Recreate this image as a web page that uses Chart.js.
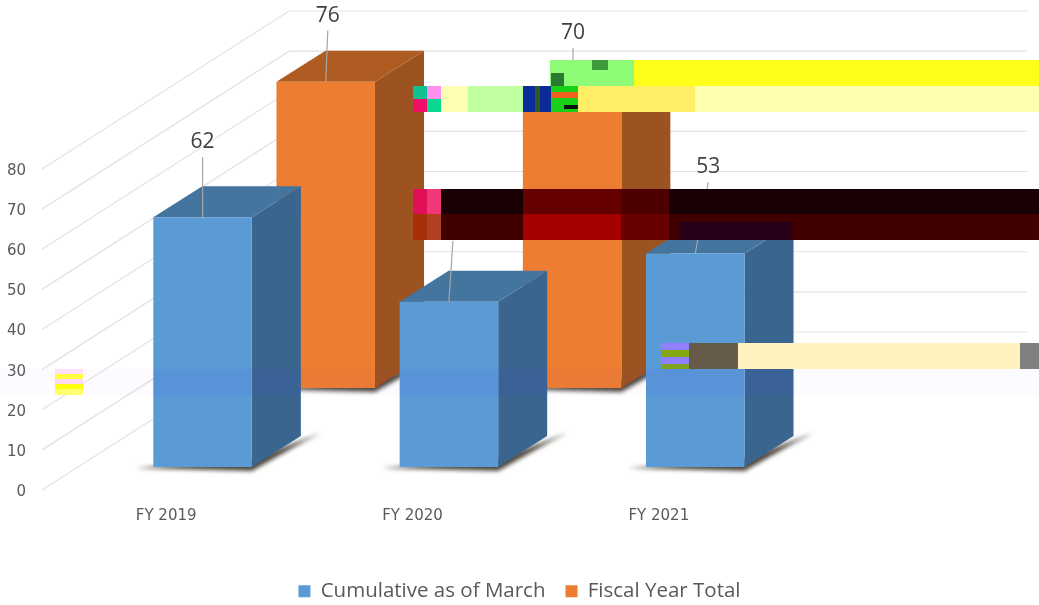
<!DOCTYPE html>
<html>
<head>
<meta charset="utf-8">
<title>Chart</title>
<style>
html, body { margin: 0; padding: 0; background: #fff; overflow: hidden; }
canvas { display: block; }
</style>
<script src="https://cdn.jsdelivr.net/npm/chart.js@4"></script>
</head>
<body>
<canvas id="chart" width="1039" height="605"></canvas>
<script>
/* DATA */
var categories = ['FY 2019', 'FY 2020', 'FY 2021'];
var cumulativeMarch = [62, 41, 53];
var fiscalYearTotal = [76, 70, null];
var axisTicks = [0, 10, 20, 30, 40, 50, 60, 70, 80];

/* LAYOUT */
var pxPerUnit = 4.03;
var areaHeight = 321;                 // from tick 0 to tick 80
var frontLift = 25;                   // blue bars stand this far above tick 0
var backLift = 104;                   // orange bars
var wallDx = 247, wallDy = -158;      // side wall of the 3d box
var wallRight = 1027;
var wallRaise = 2;                    // wall lines sit a bit above the tick labels
var barDx = 49, barDy = -31;          // depth of a bar
var legendDrop = 6.5;

var labelOffsets = [
    [[0, -75], [4, -76], [13, -86]],
    [[2, -66], [1, -73], [0, 0]]
];

var faces = [
    { side: '#3a658f', top: '#44759f' },
    { side: '#9c5320', top: '#ae5c22' }
];

// damaged strips of the source picture: x, y, w, h, colour
var damage = [
    [0, 369, 1039, 26, 'rgba(90,60,255,.02)'],
    [153, 369, 148, 26, 'rgba(70,60,255,.06)'],
    [400, 369, 147, 26, 'rgba(70,60,255,.06)'],
    [646, 369, 147, 26, 'rgba(70,60,255,.06)'],
    [550, 60, 84, 26, '#8dfb76'], [634, 60, 405, 26, '#ffff1c'],
    [551, 73, 13, 13, '#2c7a30'], [592, 60, 16, 10, '#3d9a3a'],
    [413, 86, 14, 13, '#10c090'], [427, 86, 14, 13, '#ff90f0'],
    [413, 99, 14, 13, '#f0106a'], [427, 99, 14, 13, '#08d890'],
    [441, 86, 27, 26, '#ffffb4'], [468, 86, 55, 26, '#c0ffa0'],
    [523, 86, 28, 26, '#0a2c98'], [535, 86, 5, 26, '#2f5a20'],
    [551, 86, 27, 26, '#18d018'], [551, 92, 27, 6, '#f06020'],
    [564, 105, 14, 4, '#101010'], [578, 86, 117, 26, '#ffee66'],
    [695, 86, 344, 26, '#ffffb0'],
    [413, 189, 14, 25, '#e01058'], [427, 189, 14, 25, '#f03878'],
    [441, 189, 82, 25, '#180004'], [523, 189, 98, 25, '#640000'],
    [621, 189, 48, 25, '#4e0000'], [669, 189, 370, 25, '#180004'],
    [413, 214, 14, 26, '#a83008'], [427, 214, 14, 26, '#b04020'],
    [441, 214, 82, 26, '#400000'], [523, 214, 98, 26, '#a40000'],
    [621, 214, 48, 26, '#680000'], [669, 214, 370, 26, '#400000'],
    [680, 222, 112, 18, '#28001a'],
    [55, 369, 28, 5, '#ffe0f8'], [55, 374, 28, 5, '#ffff40'], [55, 379, 28, 5, '#ffd8f0'],
    [55, 384, 28, 5, '#ffff10'], [55, 389, 28, 6, '#ffff70'],
    [661, 343, 28, 7, '#9080ff'], [661, 350, 28, 7, '#84a810'],
    [661, 357, 28, 7, '#9080ff'], [661, 364, 28, 5, '#80a020'],
    [689, 343, 49, 26, '#665a48'], [738, 343, 282, 26, '#fff2c0'],
    [1020, 343, 19, 26, '#808080']
];

/* PLUGIN: 3d walls, bar sides, labels */
var box3d = {
    id: 'box3d',

    afterLayout: function (chart) {
        // the legend sits lower than the library would put it
        chart.legend.top += legendDrop;
        chart.legend.bottom += legendDrop;
    },

    beforeDatasetsDraw: function (chart) {
        var ctx = chart.ctx;
        var scale = chart.scales.y;

        ctx.save();
        axisTicks.forEach(function (value) {
            var py = scale.getPixelForValue(value) - wallRaise;
            ctx.beginPath();
            ctx.moveTo(scale.right - 99, py);
            ctx.lineTo(scale.right - 99 + wallDx, py + wallDy);
            ctx.lineTo(wallRight, py + wallDy);
            ctx.strokeStyle = '#e2e2e2';
            ctx.lineWidth = 1.2;
            ctx.stroke();
        });
        ctx.restore();
    },

    beforeDatasetDraw: function (chart, args) {
        var ctx = chart.ctx;
        var face = faces[args.index];

        chart.getDatasetMeta(args.index).data.forEach(function (el, i) {
            if (chart.data.datasets[args.index].data[i] === null) return;

            var p = el.getProps(['x', 'y', 'base', 'width'], true);
            var left = p.x - p.width / 2;
            var right = p.x + p.width / 2;

            // floor shadow
            ctx.save();
            ctx.filter = 'blur(2px)';
            ctx.fillStyle = 'rgba(60,50,40,.9)';
            ctx.beginPath();
            ctx.moveTo(left - 18, p.base + 1);
            ctx.lineTo(right, p.base + 4);
            ctx.lineTo(right + barDx + 4, p.base + barDy + 5);
            ctx.lineTo(right + barDx + 20, p.base + barDy - 3);
            ctx.lineTo(right, p.base - 8);
            ctx.closePath();
            ctx.fill();
            ctx.restore();

            ctx.fillStyle = face.side;
            ctx.beginPath();
            ctx.moveTo(right, p.y);
            ctx.lineTo(right + barDx, p.y + barDy);
            ctx.lineTo(right + barDx, p.base + barDy);
            ctx.lineTo(right, p.base);
            ctx.closePath();
            ctx.fill();

            ctx.fillStyle = face.top;
            ctx.beginPath();
            ctx.moveTo(left, p.y);
            ctx.lineTo(left + barDx, p.y + barDy);
            ctx.lineTo(right + barDx, p.y + barDy);
            ctx.lineTo(right, p.y);
            ctx.closePath();
            ctx.fill();
        });
    },

    afterDatasetsDraw: function (chart) {
        var ctx = chart.ctx;

        ctx.save();
        ctx.font = '21px "Open Sans"';
        ctx.textAlign = 'center';
        ctx.textBaseline = 'middle';

        chart.data.datasets.forEach(function (ds, d) {
            chart.getDatasetMeta(d).data.forEach(function (el, i) {
                if (ds.data[i] === null) return;

                var off = labelOffsets[d][i];
                var lx = el.x + off[0];
                var ly = el.y + off[1];

                ctx.beginPath();
                ctx.moveTo(lx, ly + 15);
                ctx.lineTo(el.x, el.y);
                ctx.strokeStyle = '#a6a6a6';
                ctx.lineWidth = 1.2;
                ctx.stroke();

                ctx.fillStyle = '#404040';
                ctx.fillText(String(ds.data[i]), lx, ly);
            });
        });
        ctx.restore();
    },

    afterDraw: function (chart) {
        var ctx = chart.ctx;

        ctx.save();
        damage.forEach(function (d) {
            ctx.fillStyle = d[4];
            ctx.fillRect(d[0], d[1], d[2], d[3]);
        });
        ctx.restore();
    }
};

/* CHART */
var frontMin = -frontLift / pxPerUnit;
var backMin = -backLift / pxPerUnit;

var ctx = document.getElementById('chart').getContext('2d');

var myChart = new Chart(ctx, {
    type: 'bar',
    data: {
        labels: categories,
        datasets: [
            {
                label: 'Cumulative as of March',
                data: cumulativeMarch,
                yAxisID: 'yFront',
                backgroundColor: '#5b9bd5',
                clip: false,
                categoryPercentage: 1,
                barPercentage: 0.8
            },
            {
                label: 'Fiscal Year Total',
                data: fiscalYearTotal,
                yAxisID: 'yBack',
                backgroundColor: '#ed7d31',
                clip: false,
                categoryPercentage: 1,
                barPercentage: 0.8
            }
        ]
    },
    options: {
        responsive: false,
        animation: false,
        layout: { padding: { top: 171 } },
        scales: {
            x: {
                grid: { display: false },
                border: { display: false },
                ticks: {
                    labelOffset: -98,
                    padding: 7,
                    maxRotation: 0,
                    color: '#595959',
                    font: { family: 'DejaVu Sans', size: 15 }
                },
                afterFit: function (scale) { scale.height = 62.5; }
            },
            y: {
                position: 'left',
                min: 0,
                max: 80,
                grid: { display: false, drawTicks: false },
                border: { display: false },
                ticks: {
                    stepSize: 10,
                    padding: 115,
                    color: '#595959',
                    font: { family: 'DejaVu Sans', size: 15 }
                },
                afterFit: function (scale) {
                    scale.width = 141;
                    // big tick padding would otherwise eat the plot height
                    scale.paddingTop = 0;
                    scale.paddingBottom = 0;
                }
            },
            yFront: {
                display: false,
                min: frontMin,
                max: frontMin + areaHeight / pxPerUnit
            },
            yBack: {
                position: 'right',
                min: backMin,
                max: backMin + areaHeight / pxPerUnit,
                grid: { display: false, drawTicks: false },
                border: { display: false },
                ticks: { display: false },
                afterFit: function (scale) { scale.width = 159; }
            }
        },
        plugins: {
            legend: {
                position: 'bottom',
                labels: {
                    boxWidth: 12,
                    boxHeight: 12,
                    padding: 20,
                    color: '#595959',
                    font: { family: 'Open Sans', size: 20.5 }
                }
            },
            tooltip: { enabled: false }
        }
    },
    plugins: [box3d]
});
</script>
</body>
</html>
